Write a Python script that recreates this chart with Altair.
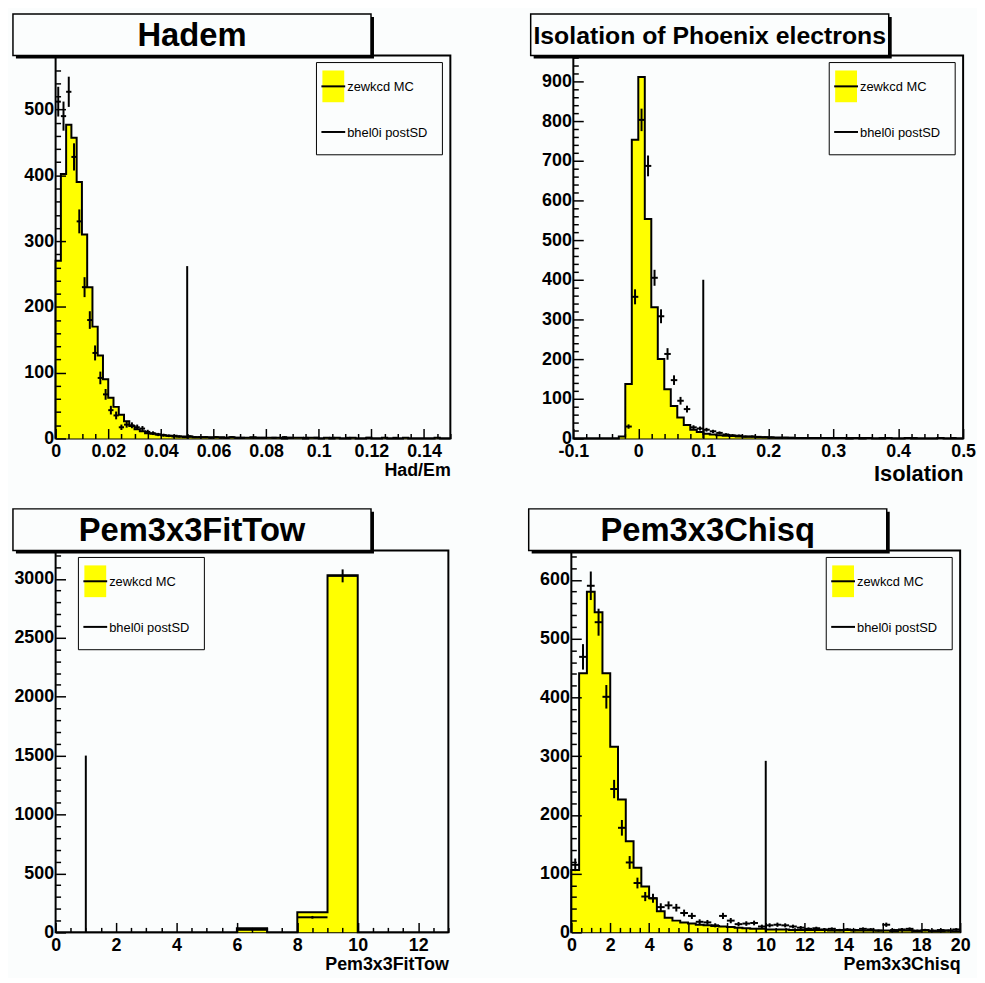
import altair as alt
import pandas as pd

# ---------------- data ----------------
# Hadem: 75 bins of 0.002 from 0 to 0.15
HADEM_LO, HADEM_W = 0.0, 0.002
HADEM_MC = [270, 402, 477, 457, 390, 310, 230, 170, 126, 90, 62, 48, 36, 26, 19, 14, 11, 8, 7, 6, 5,
            4, 4, 3, 3, 3, 2, 2, 2, 2, 2, 2, 1, 2, 1, 1, 1, 2, 1, 1, 1,
            1, 1, 0, 1, 1, 1, 0, 1, 1, 0, 1, 0, 1, 0, 0, 1, 0, 0, 1, 0,
            0, 1, 0, 0, 0, 1, 0, 0, 0, 0, 0, 1, 0, 0]
HADEM_DATA = [512, 490, 527, 428, 330, 230, 180, 130, 92, 67, 43, 35, 17, 21, 20, 17, 15, 10,
              8, 6, 5, 4, 3, 3, 2, 3, 2, 2, 2, 1, 2, 1, 1, 2, 1, 1, 0, 1,
              1, 1, 0, 1, 0, 2, 1, 0, 0, 1, 0, 1, 0, 0, 1, 0, 0, 1, 0, 0,
              0, 1, 0, 0, 0, 0, 1, 0, 0, 0, 0, 0, 0, 0, 0, 0, 0]
HADEM_CUT = [0.05, 262]

# Isolation: 60 bins of 0.01 from -0.1 to 0.5
ISO_LO, ISO_W = -0.1, 0.01
ISO_MC = [0, 0, 0, 0, 0, 0, 0, 5, 137, 753, 911, 553, 331, 200, 124, 82, 53, 34, 22, 16,
          12, 10, 8, 7, 6, 5, 4, 4, 3, 3, 2, 2, 2, 1, 1, 1, 1, 1, 1, 1,
          1, 1, 0, 1, 0, 1, 0, 0, 1, 0, 0, 1, 0, 0, 0, 0, 1, 0, 0, 0]
ISO_DATA = [0, 0, 0, 0, 0, 0, 0, 0, 30, 357, 803, 687, 405, 308, 213, 147, 95, 74, 28, 25,
            22, 18, 14, 10, 8, 7, 5, 5, 4, 3, 3, 2, 2, 2, 1, 1, 1, 1, 0, 1,
            1, 0, 1, 0, 1, 0, 0, 1, 0, 0, 0, 0, 1, 0, 0, 0, 0, 0, 1, 0]
ISO_CUT = [0.1, 400]

# Pem3x3FitTow: 13 bins of 1 from 0 to 13
FIT_LO, FIT_W = 0.0, 1.0
FIT_MC = [0, 0, 0, 0, 0, 0, 35, 0, 170, 3030, 0, 0, 0]
FIT_DATA = [0, 0, 0, 0, 0, 0, 22, 0, 128, 3025, 0, 0, 0]
FIT_CUT = [1, 1500]

# Pem3x3Chisq: 50 bins of 0.4 from 0 to 20
CHI_LO, CHI_W = 0.0, 0.4
CHI_MC = [106, 441, 580, 545, 441, 316, 226, 155, 110, 78, 58, 36, 25, 20, 17, 15, 13, 12, 11, 10,
          9, 8, 7, 6, 6, 5, 5, 5, 4, 4, 4, 4, 4, 3, 3, 4, 3, 3, 3, 3,
          3, 2, 3, 3, 2, 3, 2, 2, 3, 2]
CHI_DATA = [115, 469, 590, 528, 401, 244, 178, 119, 84, 61, 58, 43, 46, 42, 33, 28, 18, 17, 12, 28,
            20, 14, 15, 16, 10, 12, 13, 12, 10, 8, 6, 7, 5, 6, 4, 5, 4, 6, 5, 3,
            13, 4, 5, 6, 3, 4, 3, 4, 3, 5]
CHI_CUT = [10, 292]

LEGEND_LABELS = ["zewkcd MC", "bhel0i postSD"]

# ---------------- styling ----------------
FONT = "Liberation Sans"
YELLOW = "#ffff00"
BG = "#fbfdfd"


def frames(lo, w, mc, data):
    n = len(mc)
    edges = [lo + i * w for i in range(n + 1)]
    area = pd.DataFrame({"x": edges[:n] + [edges[n]], "y": mc + [mc[-1]]})
    lx = [edges[0]] + edges[:n] + [edges[n], edges[n]]
    ly = [0] + mc + [mc[-1], 0]
    line = pd.DataFrame({"i": list(range(len(lx))), "x": lx, "y": ly})
    pts = pd.DataFrame({"lo": edges[:n], "hi": edges[1:],
                        "c": [e + w / 2 for e in edges[:n]], "n": data})
    pts = pts[pts["n"] > 0].copy()
    pts["elo"] = pts["n"] - pts["n"] ** 0.5
    pts["ehi"] = pts["n"] + pts["n"] ** 0.5
    return area, line, pts


def minors(lo, hi, step, major):
    out = []
    k = 0
    while lo + k * step <= hi + 1e-9:
        v = round(lo + k * step, 6)
        r = v / major
        if abs(r - round(r)) > 1e-6:
            out.append(v)
        k += 1
    return out


def major_axis(orient, values, title=None, title_size=18, title_pad=1):
    kw = dict(orient=orient, values=values, offset=-10, tickSize=10, tickWidth=1.5,
              tickColor="black", domain=False, grid=False, labelFont=FONT,
              labelFontSize=18, labelFontWeight="bold", labelColor="black",
              labelFlush=False, labelOverlap=False, labelBound=False, zindex=1,
              format="~r", labelExpr="replace(datum.label, '\u2212', '-')")
    if orient == "bottom":
        kw.update(labelPadding=4, title=title, titleAnchor="end", titleFont=FONT,
                  titleFontSize=title_size, titleFontWeight="bold", titleColor="black",
                  titlePadding=title_pad)
    else:
        kw.update(labelPadding=2, title=None)
    return alt.Axis(**kw)


def minor_axis(orient, values):
    return alt.Axis(orient=orient, values=values, offset=-5, tickSize=5, tickWidth=1.5,
                    tickColor="black", domain=False, grid=False, labels=False,
                    title=None, zindex=1)


def panel(title, title_size, xlabel, xlabel_size, title_pad, lo, w, mc, data, cut,
          xdom, ydom, xmaj, xminor, ymaj, yminor, width, height, legend_left):
    area, line, pts = frames(lo, w, mc, data)
    xs = alt.Scale(domain=xdom, nice=False, zero=False)
    ys = alt.Scale(domain=ydom, nice=False, zero=False)

    a = alt.Chart(area).mark_area(interpolate="step-after", color=YELLOW).encode(
        x=alt.X("x:Q", scale=xs, axis=major_axis("bottom", xmaj, xlabel, xlabel_size, title_pad)),
        y=alt.Y("y:Q", scale=ys, axis=major_axis("left", ymaj)))
    l = alt.Chart(line).mark_line(interpolate="step-after", color="black", strokeWidth=2).encode(
        x=alt.X("x:Q", scale=xs, axis=minor_axis("bottom", xminor)),
        y=alt.Y("y:Q", scale=ys, axis=minor_axis("left", yminor)),
        order="i:Q")
    ev = alt.Chart(pts).mark_rule(color="black", strokeWidth=2).encode(
        x=alt.X("c:Q", scale=xs, axis=None),
        y=alt.Y("elo:Q", scale=ys, axis=None), y2="ehi:Q")
    eh = alt.Chart(pts).mark_rule(color="black", strokeWidth=2).encode(
        x=alt.X("lo:Q", scale=xs, axis=None), x2="hi:Q",
        y=alt.Y("n:Q", scale=ys, axis=None))
    cutdf = pd.DataFrame({"x": [cut[0]], "y0": [0], "y1": [cut[1]]})
    cr = alt.Chart(cutdf).mark_rule(color="black", strokeWidth=2).encode(
        x=alt.X("x:Q", scale=xs, axis=None),
        y=alt.Y("y0:Q", scale=ys, axis=None), y2="y1:Q")

    one = pd.DataFrame({"k": [0]})
    base = alt.Chart(one)
    shadow = base.mark_rect(color="black").encode(
        x=alt.value(-40), x2=alt.value(321), y=alt.value(-39), y2=alt.value(3))
    box = base.mark_rect(fill=BG, stroke="black", strokeWidth=1.5).encode(
        x=alt.value(-43), x2=alt.value(318), y=alt.value(-42), y2=alt.value(0))
    ttl = base.mark_text(text=title, font=FONT, fontSize=title_size, fontWeight="bold",
                         align="center", baseline="middle", color="black").encode(
        x=alt.value(137.5), y=alt.value(-20))

    L = legend_left
    lbox = base.mark_rect(fill=BG, stroke="black", strokeWidth=1).encode(
        x=alt.value(L), x2=alt.value(L + 127), y=alt.value(7), y2=alt.value(100))
    sw = base.mark_rect(color=YELLOW).encode(
        x=alt.value(L + 6), x2=alt.value(L + 28), y=alt.value(15), y2=alt.value(47))
    ll1 = base.mark_rule(color="black", strokeWidth=2).encode(
        x=alt.value(L + 5), x2=alt.value(L + 29), y=alt.value(31))
    ll2 = base.mark_rule(color="black", strokeWidth=2).encode(
        x=alt.value(L + 5), x2=alt.value(L + 29), y=alt.value(77))
    lt1 = base.mark_text(text=LEGEND_LABELS[0], font=FONT, fontSize=13, align="left",
                         baseline="middle", color="black").encode(
        x=alt.value(L + 31), y=alt.value(32))
    lt2 = base.mark_text(text=LEGEND_LABELS[1], font=FONT, fontSize=13, align="left",
                         baseline="middle", color="black").encode(
        x=alt.value(L + 31), y=alt.value(78))

    return alt.layer(a, l, ev, eh, cr, lbox, sw, ll1, ll2, lt1, lt2, shadow, box, ttl).resolve_axis(
        x="independent", y="independent").properties(width=width, height=height)


p1 = panel("Hadem", 33, "Had/Em", 18, 1, HADEM_LO, HADEM_W, HADEM_MC, HADEM_DATA, HADEM_CUT,
           [0, 0.15], [0, 582],
           [0, 0.02, 0.04, 0.06, 0.08, 0.1, 0.12, 0.14], minors(0, 0.15, 0.005, 0.02),
           [0, 100, 200, 300, 400, 500], minors(0, 580, 20, 100), 398, 386, 263)
p2 = panel("Isolation of Phoenix electrons", 25, "Isolation", 22, 3, ISO_LO, ISO_W, ISO_MC,
           ISO_DATA, ISO_CUT, [-0.1, 0.5], [0, 965],
           [-0.1, 0, 0.1, 0.2, 0.3, 0.4, 0.5], minors(-0.1, 0.5, 0.02, 0.1),
           [0, 100, 200, 300, 400, 500, 600, 700, 800, 900], minors(0, 960, 20, 100),
           393, 386, 258)
p3 = panel("Pem3x3FitTow", 33, "Pem3x3FitTow", 18, 1, FIT_LO, FIT_W, FIT_MC, FIT_DATA, FIT_CUT,
           [0, 13], [0, 3240],
           [0, 2, 4, 6, 8, 10, 12], minors(0, 13, 0.5, 2),
           [0, 500, 1000, 1500, 2000, 2500, 3000], minors(0, 3200, 100, 500), 396, 385, 23)
p4 = panel("Pem3x3Chisq", 33, "Pem3x3Chisq", 18, 1, CHI_LO, CHI_W, CHI_MC, CHI_DATA, CHI_CUT,
           [0, 20], [0, 650],
           [0, 2, 4, 6, 8, 10, 12, 14, 16, 18, 20], minors(0, 20, 0.5, 2),
           [0, 100, 200, 300, 400, 500, 600], minors(0, 640, 20, 100), 392, 385, 257)

row1 = alt.hconcat(p1, p2, spacing=74)
row2 = alt.hconcat(p3, p4, spacing=74)
chart = alt.vconcat(row1, row2, spacing=22).properties(
    padding={"left": 3, "top": 0, "right": 0, "bottom": 0},
    background=BG,
).configure_view(stroke="black", strokeWidth=2)

chart.save("out.html", embed_options={"renderer": "svg", "actions": False})
